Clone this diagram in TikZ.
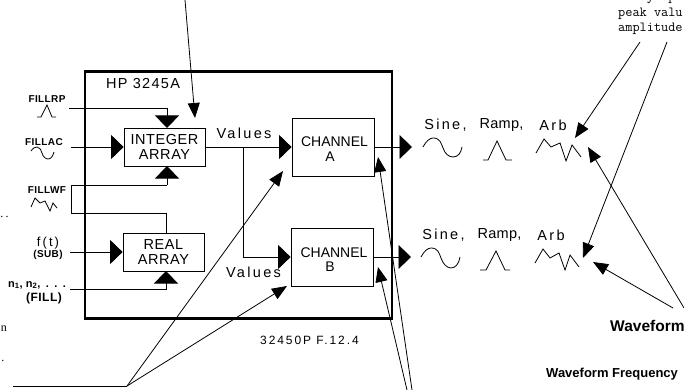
\documentclass[tikz,border=0pt]{standalone}
\usepackage{fontspec}
\setmainfont{Liberation Sans}
\newfontfamily\plotwide[LetterSpace=16]{Liberation Sans}
\newfontfamily\plotmid[LetterSpace=9]{Liberation Sans}
\newfontfamily\plottight[LetterSpace=2]{Liberation Sans}
\newfontfamily\plotsmall[LetterSpace=4]{Liberation Sans}
\newfontfamily\serifscan{Liberation Serif}
\usetikzlibrary{arrows.meta}
\tikzset{
  boxnode/.style={draw,line width=0.8pt,inner sep=0pt,minimum width=#1,font=\fontsize{14.5}{15.5}\selectfont\plotsmall,align=center},
  wire/.style={line width=0.8pt},
  blockarrow/.style={wire,-{Triangle[length=12.5pt,width=24pt]}},
  pointer/.style={line width=0.8pt,-{Triangle[length=15pt,width=12pt]}},
  curve/.style={line width=0.8pt,line join=miter},
  lab/.style={inner sep=0pt,anchor=center},
  big/.style={lab,font=\fontsize{14.5}{15}\selectfont\plotwide},
  tiny/.style={lab,font=\fontsize{10}{11}\selectfont\bfseries\plotsmall},
  tinyb/.style={lab,font=\fontsize{11.5}{12}\selectfont\plotsmall},
  note/.style={lab,anchor=west,font=\fontsize{13.9}{14}\selectfont\ttfamily},
  speck/.style={lab,font=\fontsize{12}{12}\selectfont\serifscan},
}
\begin{document}
\begin{tikzpicture}[x=1pt,y=-1pt]
\useasboundingbox (0,0) rectangle (684,390);
\clip (0,0) rectangle (684,390);
% main frame
\node[draw,line width=2.6pt,inner sep=0pt,minimum width=307pt,minimum height=247pt] (hp) at (238.5,195) {};
\node[big,font=\fontsize{14.5}{15}\selectfont\plotmid] (hptitle) at (143,84) {HP 3245A};
% blocks
\node[boxnode=81pt,minimum height=38pt] (int) at (164.5,147) {INTEGER\\ARRAY};
\node[boxnode=81pt,minimum height=38pt] (real) at (163.5,252) {REAL\\ARRAY};
\node[boxnode=82pt,minimum height=58pt] (cha) at (333,147) {};
\node[boxnode=82pt,minimum height=58pt] (chb) at (332,257) {};
\node[lab,font=\fontsize{14}{15}\selectfont] (chatext) at (334.5,142) {CHANNEL};
\node[lab,font=\fontsize{14}{15}\selectfont] (chaletter) at (330,157) {A};
\node[lab,font=\fontsize{14}{15}\selectfont] (chbtext) at (334,253) {CHANNEL};
\node[lab,font=\fontsize{14}{15}\selectfont] (chbletter) at (330,267) {B};
% input labels
\node[tiny] (fillrp) at (47,99) {FILLRP};
\node[tiny] (fillac) at (44,142) {FILLAC};
\node[tiny] (fillwf) at (47,190) {FILLWF};
\node[lab,font=\fontsize{13}{14}\selectfont\plotwide] (ft) at (48,243) {f(t)};
\node[tiny] (sub) at (48,255) {(SUB)};
\node[tinyb,font=\fontsize{12}{12}\selectfont\bfseries\plotsmall] (fill) at (44,298) {(FILL)};
\node[lab,anchor=west,font=\fontsize{11}{12}\selectfont\bfseries] (nn) at (8,285) {n$_{\mathbf 1}$, n$_{\mathbf 2}$,\,\,\,.\,\,\,.\,\,\,.};
% input coordinates
\coordinate (rpstart) at (69,108);
\coordinate (rpbend) at (167,108);
\coordinate (inttop) at (167,128);
\coordinate (acstart) at (71,147);
\coordinate (intbot) at (167,166);
\coordinate (wfa) at (167,185);
\coordinate (wfb) at (71,185);
\coordinate (wfc) at (71,213);
\coordinate (wfd) at (166,213);
\coordinate (realtop) at (166,233);
\coordinate (fstart) at (70,252);
\coordinate (nstart) at (70,289);
\coordinate (nbend) at (166,289);
\coordinate (realbot) at (166,271);
\draw[blockarrow] (rpstart) -- (rpbend) -- (inttop);
\draw[blockarrow] (acstart) -- (int.west);
\draw[blockarrow] (wfa) -- (intbot);
\draw[wire] (wfa) -- (wfb) -- (wfc) -- (wfd) -- (realtop);
\draw[blockarrow] (fstart) -- (real.west);
\draw[blockarrow] (nstart) -- (nbend) -- (realbot);
% values
\coordinate (branch) at (243,147);
\coordinate (branchb) at (243,257);
\draw[blockarrow] (int.east) -- (cha.west);
\draw[blockarrow] (branch) -- (branchb) -- (chb.west);
\node[big] (valuesa) at (244,133) {Values};
\node[big] (valuesb) at (253.5,272) {Values};
% outputs
\coordinate (outa) at (412,147);
\coordinate (outb) at (411,257);
\draw[blockarrow] (cha.east) -- (outa);
\draw[blockarrow] (chb.east) -- (outb);
% output labels
\node[big] (sinea) at (445.5,125) {Sine,};
\node[big,font=\fontsize{14.5}{15}\selectfont\plottight] (rampa) at (501.5,125) {Ramp,};
\node[big] (arba) at (553,125) {Arb};
\node[big] (sineb) at (443.5,235) {Sine,};
\node[big,font=\fontsize{14.5}{15}\selectfont\plottight] (rampb) at (499.5,235) {Ramp,};
\node[big] (arbb) at (551,235) {Arb};
% waveforms
\draw[curve] (423,147) .. controls (426,141) and (430,138) .. (433,138) .. controls (440,138) and (441,143) .. (443,148) .. controls (445,154) and (449,157) .. (453,157) .. controls (458,157) and (461,153) .. (462,147);
\draw[curve] (483,160) -- (488,160) -- (497,141) -- (506,160) -- (512,160);
\draw[curve] (536,153) -- (544,139) -- (551,147) -- (560,143) -- (566,161) -- (572,145) -- (581,157);
\draw[curve] (421,257) .. controls (424,251) and (428,248) .. (431,248) .. controls (438,248) and (439,253) .. (441,258) .. controls (443,264) and (447,268) .. (451,268) .. controls (456,268) and (459,263) .. (460,257);
\draw[curve] (480,270) -- (486,270) -- (496,251) -- (505,270) -- (510,270);
\draw[curve] (535,263) -- (543,249) -- (550,258) -- (559,253) -- (565,270) -- (570,255) -- (579,267);
% input icons
\draw[curve] (37,117) -- (41,117) -- (47,105) -- (52,117) -- (56,117);
\draw[curve] (31,151) .. controls (33,148) and (35,147) .. (37,147) .. controls (40,147) and (41,150) .. (42,153) .. controls (43,157) and (46,159) .. (48,159) .. controls (51,159) and (53,156) .. (54,152);
\draw[curve] (31,207) -- (35,198) -- (40,203) -- (45,201) -- (50,211) -- (53,203) -- (57,208);
% pointers
\coordinate (topsrc) at (185,0);
\coordinate (toptip) at (195,118);
\draw[pointer] (topsrc) -- (toptip);
\coordinate (lstart) at (13,386);
\coordinate (ljoin) at (127,386);
\coordinate (ltipa) at (283,171);
\coordinate (ltipb) at (287,286);
\draw[wire] (lstart) -- (ljoin);
\draw[pointer] (ljoin) -- (ltipa);
\draw[pointer] (ljoin) -- (ltipb);
\coordinate (bsrca) at (412,390);
\coordinate (bsrcb) at (407,390);
\coordinate (btipa) at (378,157);
\coordinate (btipb) at (378,267);
\draw[pointer] (bsrca) -- (btipa);
\draw[pointer] (bsrcb) -- (btipb);
\coordinate (rsrca) at (640,42);
\coordinate (rsrcb) at (667,42);
\coordinate (rtipa) at (575,138);
\coordinate (rtipb) at (583,258);
\draw[pointer] (rsrca) -- (rtipa);
\draw[pointer] (rsrcb) -- (rtipb);
\coordinate (wsrca) at (684,308);
\coordinate (wsrcb) at (673,308);
\coordinate (wtipa) at (588,147);
\coordinate (wtipb) at (593,262);
\draw[pointer] (wsrca) -- (wtipa);
\draw[pointer] (wsrcb) -- (wtipb);
% texts at right
\node[note] (notea) at (618,-1) {array sp};
\node[note] (noteb) at (618,14) {peak valu};
\node[note] (notec) at (618,29) {amplitude};
\node[lab,anchor=west,font=\fontsize{15.5}{16}\selectfont\bfseries] (wave) at (610,326) {Waveform};
\node[lab,anchor=west,font=\fontsize{13}{14}\selectfont\bfseries] (freq) at (546,374) {Waveform Frequency};
\node[lab,anchor=west,font=\fontsize{12}{13}\selectfont\plotwide] (fig) at (260,340) {32450P F.12.4};
% scan remnants at the left edge
\node[speck] (rema) at (4,329) {n};
\node[speck] (remb) at (3,361) {.};
\node[speck] (remc) at (2,217) {.};
\node[speck] (remd) at (7,217) {.};
\end{tikzpicture}
\end{document}
